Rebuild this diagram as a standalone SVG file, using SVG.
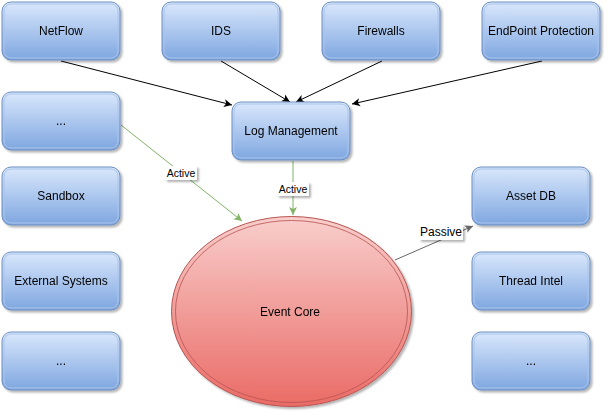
<svg xmlns="http://www.w3.org/2000/svg" width="609" height="414" viewBox="0 0 609 414">
<style>
.box{fill:url(#bg);stroke:#6c8ebf;stroke-width:1}
.box2{fill:none;stroke:#a9c4eb;stroke-width:1}
.t{font-family:"Liberation Sans",Arial,sans-serif;font-size:12px;fill:#000;text-anchor:middle;dominant-baseline:central}
.lbl{font-family:"Liberation Sans",Arial,sans-serif;font-size:10.5px;fill:#000;text-anchor:middle;dominant-baseline:central}
.blk{stroke:#000;stroke-width:1;fill:none;marker-end:url(#ab)}
.grn{stroke:#82b366;stroke-width:1;fill:none;marker-end:url(#ag)}
.gry{stroke:#666;stroke-width:1;fill:none;marker-end:url(#ay)}
.lb{fill:#fff}
</style>
<defs>
<linearGradient id="bg" x1="0" y1="0" x2="0" y2="1"><stop offset="0" stop-color="#dae8fc"/><stop offset="1" stop-color="#7ea6e0"/></linearGradient>
<linearGradient id="rg" x1="0" y1="0" x2="0" y2="1"><stop offset="0" stop-color="#f8cecc"/><stop offset="1" stop-color="#ea6b66"/></linearGradient>
<filter id="sh" x="-10%" y="-10%" width="130%" height="130%"><feGaussianBlur in="SourceAlpha" stdDeviation="1.2"/><feOffset dx="2" dy="2"/><feComponentTransfer><feFuncA type="linear" slope="0.3"/></feComponentTransfer><feMerge><feMergeNode/><feMergeNode in="SourceGraphic"/></feMerge></filter>
<marker id="ab" markerWidth="10" markerHeight="10" refX="9" refY="5" orient="auto" markerUnits="userSpaceOnUse"><path d="M1,1 L9,5 L1,9 L3,5 Z" fill="#000"/></marker>
<marker id="ag" markerWidth="10" markerHeight="10" refX="9" refY="5" orient="auto" markerUnits="userSpaceOnUse"><path d="M1,1 L9,5 L1,9 L3,5 Z" fill="#82b366"/></marker>
<marker id="ay" markerWidth="10" markerHeight="10" refX="9" refY="5" orient="auto" markerUnits="userSpaceOnUse"><path d="M1,1 L9,5 L1,9 L3,5 Z" fill="#666"/></marker>
</defs>
<rect width="609" height="414" fill="#fff"/>
<g id="connectors">
<path class="blk" d="M61,61 L232,105"/>
<path class="blk" d="M221,61 L290,102"/>
<path class="blk" d="M382,61 L296,102"/>
<path class="blk" d="M542,61 L352,104"/>
<path class="grn" d="M121,125 L242,221"/>
<path class="grn" d="M293,161 L293,215"/>
<path class="gry" d="M395,260 L473,226"/>
<g filter="url(#sh)">
<rect class="lb" x="165" y="166" width="32" height="14"/>
<rect class="lb" x="277" y="182" width="32" height="14"/>
<rect class="lb" x="419" y="225" width="44" height="15"/>
</g>
<text class="lbl" x="181" y="173">Active</text>
<text class="lbl" x="293" y="189">Active</text>
<text class="lbl" x="441" y="232" style="font-size:12px">Passive</text>
</g>
<g id="netflow" filter="url(#sh)"><rect class="box" x="2" y="2" width="118" height="58" rx="9"/><rect class="box2" x="4" y="4" width="114" height="54" rx="7"/><text class="t" x="61" y="31">NetFlow</text></g>
<g id="ids" filter="url(#sh)"><rect class="box" x="162" y="2" width="118" height="58" rx="9"/><rect class="box2" x="164" y="4" width="114" height="54" rx="7"/><text class="t" x="221" y="31">IDS</text></g>
<g id="firewalls" filter="url(#sh)"><rect class="box" x="322" y="2" width="118" height="58" rx="9"/><rect class="box2" x="324" y="4" width="114" height="54" rx="7"/><text class="t" x="381" y="31">Firewalls</text></g>
<g id="endpoint" filter="url(#sh)"><rect class="box" x="482" y="2" width="118" height="58" rx="9"/><rect class="box2" x="484" y="4" width="114" height="54" rx="7"/><text class="t" x="541" y="31">EndPoint Protection</text></g>
<g id="logmgmt" filter="url(#sh)"><rect class="box" x="232" y="102" width="118" height="58" rx="9"/><rect class="box2" x="234" y="104" width="114" height="54" rx="7"/><text class="t" x="291" y="131">Log Management</text></g>
<g id="left1" filter="url(#sh)"><rect class="box" x="2" y="92" width="118" height="58" rx="9"/><rect class="box2" x="4" y="94" width="114" height="54" rx="7"/><text class="t" x="61" y="121">...</text></g>
<g id="sandbox" filter="url(#sh)"><rect class="box" x="2" y="167" width="118" height="58" rx="9"/><rect class="box2" x="4" y="169" width="114" height="54" rx="7"/><text class="t" x="61" y="196">Sandbox</text></g>
<g id="external" filter="url(#sh)"><rect class="box" x="2" y="252" width="118" height="58" rx="9"/><rect class="box2" x="4" y="254" width="114" height="54" rx="7"/><text class="t" x="61" y="281">External Systems</text></g>
<g id="left4" filter="url(#sh)"><rect class="box" x="2" y="332" width="118" height="58" rx="9"/><rect class="box2" x="4" y="334" width="114" height="54" rx="7"/><text class="t" x="61" y="361">...</text></g>
<g id="assetdb" filter="url(#sh)"><rect class="box" x="472" y="167" width="118" height="58" rx="9"/><rect class="box2" x="474" y="169" width="114" height="54" rx="7"/><text class="t" x="531" y="196">Asset DB</text></g>
<g id="threadintel" filter="url(#sh)"><rect class="box" x="472" y="252" width="118" height="58" rx="9"/><rect class="box2" x="474" y="254" width="114" height="54" rx="7"/><text class="t" x="531" y="281">Thread Intel</text></g>
<g id="right3" filter="url(#sh)"><rect class="box" x="472" y="332" width="118" height="58" rx="9"/><rect class="box2" x="474" y="334" width="114" height="54" rx="7"/><text class="t" x="531" y="361">...</text></g>
<g id="eventcore" filter="url(#sh)"><ellipse cx="291.5" cy="311.5" rx="120" ry="95" fill="url(#rg)" stroke="#b85450"/><ellipse cx="291.5" cy="311.5" rx="116" ry="91" fill="none" stroke="#b85450" stroke-opacity="0.8"/><text class="t" x="290" y="312">Event Core</text></g>
</svg>
